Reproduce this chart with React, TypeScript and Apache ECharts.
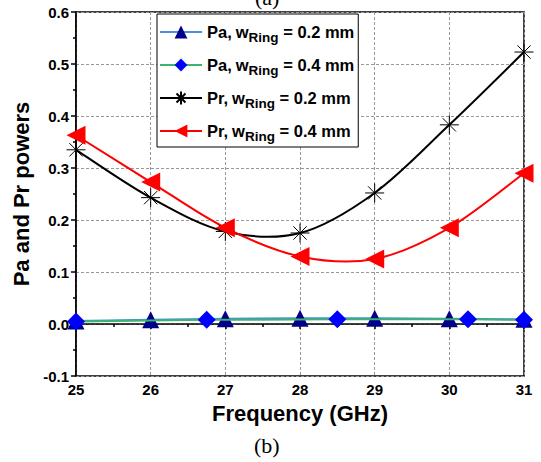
import React, { useEffect, useRef } from "react";
import * as echarts from "echarts";

const freqs = [25, 26, 27, 28, 29, 30, 31];
const paRing02 = [0.006, 0.008, 0.01, 0.011, 0.011, 0.01, 0.009];
const paRing04X = [25, 26.75, 28.5, 30.25, 31];
const paRing04 = [0.005, 0.008, 0.009, 0.009, 0.008];
const prRing02 = [0.335, 0.243, 0.178, 0.175, 0.252, 0.383, 0.523];
const prRing04 = [0.363, 0.273, 0.185, 0.13, 0.125, 0.185, 0.29];
const seriesNames = ["Pa02", "Pa04", "Pr02", "Pr04"];
const legendLabels: Record<string, [string, string, string]> = {
  Pa02: ["Pa,", "w", " = 0.2 mm"],
  Pa04: ["Pa,", "w", " = 0.4 mm"],
  Pr02: ["Pr,", "w", " = 0.2 mm"],
  Pr04: ["Pr,", "w", " = 0.4 mm"],
};

const star = "path://M10,0 L10,20 M0,10 L20,10 M3,3 L17,17 M3,17 L17,3";
const leftTri = "path://M0,10 L20,0 L20,20 Z";

// Catmull-Rom spline through the series' own pixel positions
function splineSeries(xs: number[], ys: number[], color: string, z: number) {
  return {
    type: "custom",
    silent: true,
    z,
    data: xs.map((x, i) => [x, ys[i]]),
    encode: { x: 0, y: 1 },
    renderItem: (params: any, api: any) => {
      if (params.dataIndex !== 0) return null;
      const p = xs.map((x, i) => api.coord([x, ys[i]]));
      let d = `M${p[0][0]},${p[0][1]}`;
      for (let i = 0; i < p.length - 1; i++) {
        const p0 = p[Math.max(0, i - 1)];
        const p1 = p[i];
        const p2 = p[i + 1];
        const p3 = p[Math.min(p.length - 1, i + 2)];
        const c1 = [p1[0] + (p2[0] - p0[0]) / 6, p1[1] + (p2[1] - p0[1]) / 6];
        const c2 = [p2[0] - (p3[0] - p1[0]) / 6, p2[1] - (p3[1] - p1[1]) / 6];
        d += ` C${c1[0]},${c1[1]} ${c2[0]},${c2[1]} ${p2[0]},${p2[1]}`;
      }
      return {
        type: "path",
        shape: { pathData: d },
        style: { stroke: color, fill: "none", lineWidth: 2 },
      };
    },
  };
}

export default function App() {
  const ref = useRef<HTMLDivElement>(null);
  useEffect(() => {
    const chart = echarts.init(ref.current!, null, { renderer: "svg" });
    const font = "Arial, 'Liberation Sans', sans-serif";
    chart.setOption({
      animation: false,
      textStyle: { fontFamily: font },
      grid: { left: 76, right: 17, top: 12, bottom: 86, show: true, borderColor: "#000", borderWidth: 1.5, backgroundColor: "transparent" },
      graphic: [
        { type: "text", left: 255, top: -14, style: { text: "(a)", font: "22px 'Liberation Serif', serif", fill: "#000" } },
        { type: "text", left: 254, top: 434, style: { text: "(b)", font: "22px 'Liberation Serif', serif", fill: "#000" } },
      ],
      legend: {
        left: 157,
        top: 14,
        orient: "vertical",
        data: [
          { name: "Pa02" },
          { name: "Pa04" },
          { name: "Pr02", lineStyle: { width: 2, color: "#000", opacity: 1 } },
          { name: "Pr04", lineStyle: { width: 2, color: "#ff0000", opacity: 1 } },
        ],
        backgroundColor: "#fff",
        borderColor: "#000",
        borderWidth: 1,
        padding: [6, 4, 4, 2],
        itemWidth: 42,
        itemHeight: 16,
        itemGap: 9,
        formatter: (name: string) => {
          const l = legendLabels[name];
          return `{n|${l[0]}}{g|${l[1]}}{s|Ring}{n|${l[2]}}`;
        },
        textStyle: {
          rich: {
            n: { fontSize: 16.5, fontWeight: "bold", color: "#000", fontFamily: font, lineHeight: 22 },
            g: { fontSize: 16.5, fontWeight: "bold", color: "#000", fontFamily: font, lineHeight: 22, padding: [0, 0, 0, 4] },
            s: { fontSize: 13.5, fontWeight: "bold", color: "#000", fontFamily: font, lineHeight: 22, padding: [10, 0, 0, 0] },
          },
        },
      },
      xAxis: {
        type: "value",
        min: 25,
        max: 31,
        interval: 1,
        name: "Frequency (GHz)",
        nameLocation: "middle",
        nameGap: 26,
        nameTextStyle: { fontSize: 22, fontWeight: "bold", color: "#000" },
        axisLine: { lineStyle: { color: "#000", width: 1.5 } },
        axisTick: { show: true, inside: false, length: 5, lineStyle: { color: "#000", width: 1.5 } },
        minorTick: { show: true, splitNumber: 2, length: 3, lineStyle: { color: "#000", width: 1.5 } },
        axisLabel: { fontSize: 15, fontWeight: "bold", color: "#000", margin: 6 },
        splitLine: { show: true, lineStyle: { color: "#999", type: [3, 2], width: 1 } },
      },
      yAxis: {
        type: "value",
        min: -0.1,
        max: 0.6,
        interval: 0.1,
        name: "Pa and Pr powers",
        nameLocation: "middle",
        nameGap: 44,
        nameTextStyle: { fontSize: 22, fontWeight: "bold", color: "#000" },
        axisLine: { show: true, lineStyle: { color: "#000", width: 1.5 } },
        axisTick: { show: true, inside: false, length: 5, lineStyle: { color: "#000", width: 1.5 } },
        minorTick: { show: true, splitNumber: 2, length: 3, lineStyle: { color: "#000", width: 1.5 } },
        axisLabel: { fontSize: 15, fontWeight: "bold", color: "#000", margin: 7, formatter: (v: number) => v.toFixed(1) },
        splitLine: { show: true, lineStyle: { color: "#999", type: [3, 2], width: 1 } },
      },
      series: [
        {
          name: "Pa02",
          type: "line",
          data: freqs.map((f, i) => [f, paRing02[i]]),
          symbol: "triangle",
          symbolSize: 17,
          lineStyle: { color: "#4a8fe0", width: 2 },
          itemStyle: { color: "#00008b" },
          z: 3,
        },
        {
          name: "Pa04",
          type: "line",
          data: paRing04X.map((f, i) => [f, paRing04[i]]),
          symbol: "diamond",
          symbolSize: 18,
          showAllSymbol: true,
          lineStyle: { color: "#3cb371", width: 2 },
          itemStyle: { color: "#0000ff" },
          z: 4,
        },
        splineSeries(freqs, prRing02, "#000", 5),
        splineSeries(freqs, prRing04, "#ff0000", 6),
        {
          name: "Pr02",
          type: "line",
          data: freqs.map((f, i) => [f, prRing02[i]]),
          symbol: star,
          symbolSize: 19,
          lineStyle: { color: "#000", width: 0, opacity: 0 },
          itemStyle: { color: "transparent", borderColor: "#000", borderWidth: 1 },
          z: 7,
        },
        {
          name: "Pr04",
          type: "line",
          data: freqs.map((f, i) => [f, prRing04[i]]),
          symbol: leftTri,
          symbolSize: 19,
          lineStyle: { color: "#ff0000", width: 0, opacity: 0 },
          itemStyle: { color: "#ff0000" },
          z: 8,
        },
      ],
    });
    return () => chart.dispose();
  }, []);
  return <div ref={ref} style={{ width: 541, height: 462, position: "absolute", left: 0, top: 0 }} />;
}
